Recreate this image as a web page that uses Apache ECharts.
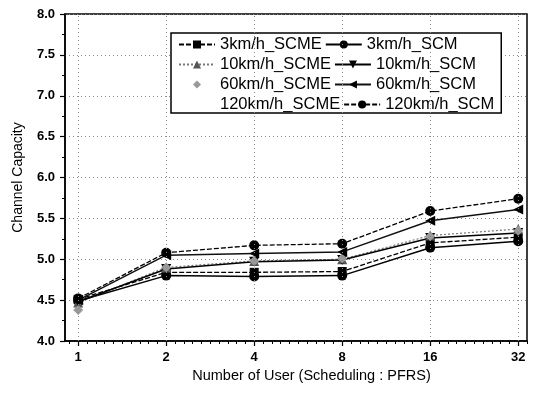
<!DOCTYPE html>
<html><head><meta charset="utf-8">
<script src="https://cdn.jsdelivr.net/npm/echarts@6/dist/echarts.min.js"></script>
<style>html,body{margin:0;padding:0;background:#fff}#c{width:537px;height:395px}</style>
</head><body><div id="c"></div>
<script>
// Data
const users = [1, 2, 4, 8, 16, 32];
const s3kmSCME   = [4.51, 4.84, 4.84, 4.85, 5.20, 5.27];
const s3kmSCM    = [4.49, 4.80, 4.79, 4.80, 5.14, 5.22];
const s10kmSCME  = [4.47, 4.90, 4.98, 5.00, 5.29, 5.37];
const s10kmSCM   = [4.48, 4.88, 4.97, 4.99, 5.26, 5.32];
const s60kmSCME  = [4.38, 4.90, 4.98, 5.01, 5.28, 5.35];
const s60kmSCM   = [4.50, 5.05, 5.07, 5.09, 5.47, 5.61];
const s120kmSCME = [4.52, 5.06, 5.15, 5.18, 5.57, 5.72];
const s120kmSCM  = [4.52, 5.08, 5.17, 5.19, 5.59, 5.74];
const names = ['3km/h_SCME','3km/h_SCM','10km/h_SCME','10km/h_SCM','60km/h_SCME','60km/h_SCM','120km/h_SCME','120km/h_SCM'];
const yTicks = [4.0, 4.5, 5.0, 5.5, 6.0, 6.5, 7.0, 7.5, 8.0];

const lx = users.map(u => Math.log2(u));
const pts = arr => arr.map((v, i) => [lx[i], v]);
const minorX = [];
for (let i = -1; i <= 51; i++) { if (i % 10 !== 0) minorX.push(i / 10); }

const font = '"Liberation Sans", Arial, sans-serif';
const styles = [
  {sym: 'rect', size: 9, color: '#000', line: {color: '#000', type: [5, 2], width: 1.3}},
  {sym: 'circle', size: 10, color: '#000', line: {color: '#000', type: 'solid', width: 1.5}},
  {sym: 'triangle', size: 10, color: '#555', line: {color: '#777', type: [2, 2], width: 1.2}},
  {sym: 'path://M0,0L10,0L5,9Z', size: 10, color: '#000', line: {color: '#000', type: 'solid', width: 1.5}},
  {sym: 'diamond', size: 10, color: '#999', line: {color: 'rgba(0,0,0,0)', type: 'solid', width: 1}},
  {sym: 'path://M0,5L9,0L9,10Z', size: 10, color: '#000', line: {color: '#111', type: 'solid', width: 1.5}},
  {sym: 'none', size: 0, color: 'rgba(0,0,0,0)', line: {color: 'rgba(0,0,0,0)', type: 'dotted', width: 1}},
  {sym: 'circle', size: 10, color: '#000', line: {color: '#000', type: [5, 2], width: 1.3}}
];
const datas = [s3kmSCME, s3kmSCM, s10kmSCME, s10kmSCM, s60kmSCME, s60kmSCM, s120kmSCME, s120kmSCM];
const series = datas.map((d, i) => ({
  name: names[i], type: 'line', data: pts(d), z: 3,
  symbol: styles[i].sym, symbolSize: styles[i].size,
  itemStyle: {color: styles[i].color},
  lineStyle: styles[i].line, animation: false
}));
series.unshift({
  name: 'grid', type: 'line', data: [], z: 1, silent: true, animation: false,
  markLine: {silent: true, symbol: 'none', label: {show: false}, animation: false,
    lineStyle: {color: '#888', type: [1, 3], width: 1},
    data: lx.map(v => ({xAxis: v}))}
});

const chart = echarts.init(document.getElementById('c'), null, {renderer: 'canvas'});
chart.setOption({
  backgroundColor: '#fff',
  animation: false,
  grid: {left: 65, right: 10, top: 14, bottom: 54, show: true, borderColor: '#000', borderWidth: 1.5},
  legend: {
    data: names, left: 171, top: 33, width: 322, orient: 'horizontal',
    padding: [3, 7, 0, 7], itemGap: 3, itemWidth: 36, itemHeight: 10,
    borderColor: '#000', borderWidth: 1.5, backgroundColor: '#fff',
    textStyle: {fontSize: 16.5, color: '#000', fontFamily: font}
  },
  xAxis: [{
    type: 'value', min: -0.15, max: 5.1, position: 'bottom',
    name: 'Number of User (Scheduling : PFRS)', nameLocation: 'middle', nameGap: 25,
    nameTextStyle: {fontSize: 14.5, color: '#000', fontFamily: font, padding: [0, 0, 0, 31]},
    axisLine: {show: true, onZero: false, lineStyle: {color: '#000', width: 1.5}},
    axisTick: {show: true, customValues: lx, length: 5, lineStyle: {color: '#000', width: 1.2}},
    axisLabel: {customValues: lx, formatter: v => String(Math.round(Math.pow(2, v))), fontSize: 13, fontWeight: 'bold', color: '#000', fontFamily: font, margin: 10},
    splitLine: {show: false}
  }, {
    type: 'value', min: -0.15, max: 5.1, position: 'bottom',
    axisLine: {show: false, onZero: false},
    axisTick: {show: true, customValues: minorX, length: 3, lineStyle: {color: '#000', width: 1}},
    axisLabel: {show: false}, splitLine: {show: false}
  }],
  yAxis: {
    type: 'value', min: yTicks[0], max: yTicks[yTicks.length - 1], interval: 0.5,
    name: 'Channel Capacity', nameLocation: 'middle', nameGap: 40,
    nameTextStyle: {fontSize: 14, color: '#000', fontFamily: font},
    axisLine: {show: true, onZero: false, lineStyle: {color: '#000', width: 1.5}},
    axisTick: {show: true, length: 5, lineStyle: {color: '#000', width: 1.2}},
    minorTick: {show: true, splitNumber: 2, length: 3, lineStyle: {color: '#000', width: 1}},
    axisLabel: {formatter: v => v.toFixed(1), fontSize: 13, fontWeight: 'bold', color: '#000', fontFamily: font, margin: 10},
    splitLine: {show: true, lineStyle: {color: '#888', type: [1, 3], width: 1}}
  },
  series: series
});
</script></body></html>
